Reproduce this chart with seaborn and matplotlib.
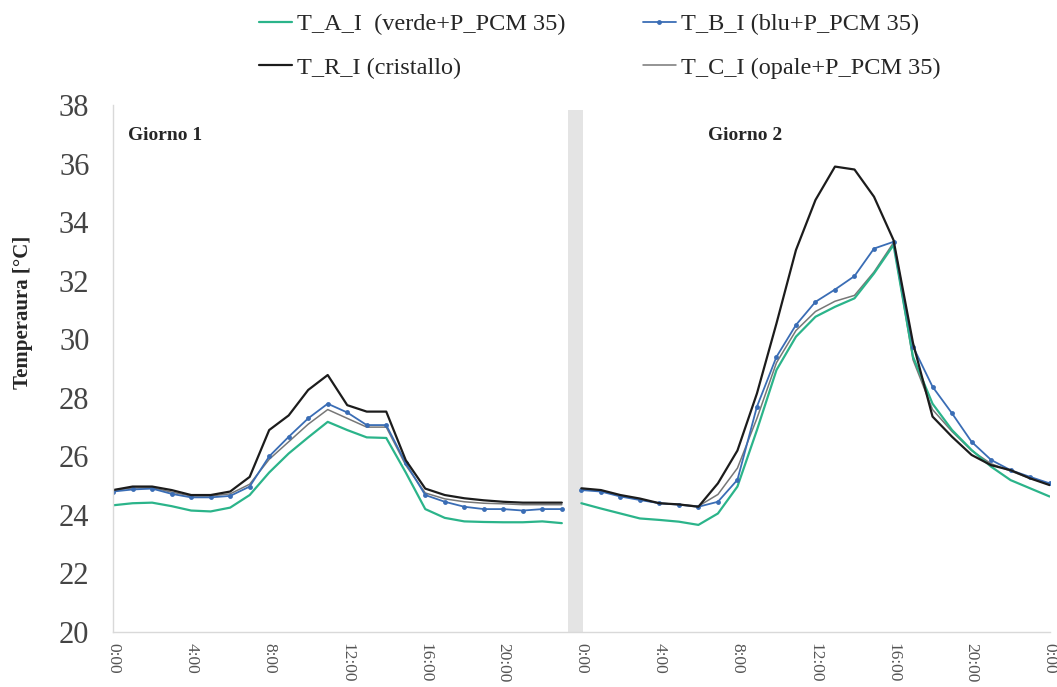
import numpy as np
import pandas as pd
import matplotlib
matplotlib.use("Agg")
import matplotlib.pyplot as plt
from matplotlib.lines import Line2D
import seaborn as sns

# hourly readings, day 1 (0:00-23:00) and day 2 (0:00 - 0:00 next day)
hours_day1 = list(range(0, 24))
hours_day2 = list(range(24, 49))

green_d1 = [24.33, 24.40, 24.42, 24.30, 24.15, 24.12, 24.25, 24.68, 25.45, 26.10, 26.65, 27.18,
            26.90, 26.65, 26.63, 25.45, 24.20, 23.90, 23.78, 23.76, 23.75, 23.75, 23.78, 23.72]
black_d1 = [24.85, 24.97, 24.97, 24.85, 24.68, 24.68, 24.80, 25.30, 26.90, 27.40, 28.27, 28.78,
            27.75, 27.53, 27.53, 25.87, 24.90, 24.68, 24.57, 24.50, 24.45, 24.42, 24.42, 24.42]
blue_d1 = [24.80, 24.87, 24.90, 24.72, 24.60, 24.60, 24.65, 24.97, 26.00, 26.67, 27.30, 27.80,
           27.50, 27.07, 27.07, 25.77, 24.68, 24.45, 24.28, 24.20, 24.20, 24.15, 24.20, 24.20]
gray_d1 = [24.85, 24.92, 24.93, 24.78, 24.65, 24.65, 24.72, 25.05, 25.90, 26.50, 27.10, 27.60,
           27.30, 27.00, 27.00, 25.70, 24.75, 24.55, 24.45, 24.40, 24.38, 24.35, 24.35, 24.35]

green_d2 = [24.40, 24.22, 24.05, 23.88, 23.83, 23.77, 23.66, 24.05, 24.97, 26.90, 28.95, 30.09,
            30.77, 31.11, 31.40, 32.25, 33.22, 29.40, 27.80, 26.90, 26.22, 25.65, 25.19, 24.91, 24.63]
black_d2 = [24.91, 24.85, 24.68, 24.56, 24.40, 24.36, 24.28, 25.08, 26.20, 28.15, 30.54, 33.05,
            34.76, 35.90, 35.80, 34.87, 33.39, 29.87, 27.36, 26.67, 26.05, 25.70, 25.53, 25.25, 25.02]
blue_d2 = [24.85, 24.80, 24.63, 24.51, 24.40, 24.35, 24.28, 24.45, 25.20, 27.70, 29.40, 30.49,
           31.28, 31.70, 32.16, 33.10, 33.33, 29.75, 28.38, 27.47, 26.50, 25.88, 25.53, 25.30, 25.08]
gray_d2 = [24.88, 24.82, 24.66, 24.53, 24.40, 24.36, 24.30, 24.70, 25.60, 27.30, 29.20, 30.30,
           30.95, 31.30, 31.50, 32.30, 33.30, 29.30, 27.60, 26.85, 26.20, 25.75, 25.50, 25.25, 25.05]

series_names = ["T_A_I  (verde+P_PCM 35)", "T_R_I (cristallo)",
                "T_B_I (blu+P_PCM 35)", "T_C_I (opale+P_PCM 35)"]
tick_hours = list(range(0, 49, 4))
tick_labels = ["0:00", "4:00", "8:00", "12:00", "16:00", "20:00",
               "0:00", "4:00", "8:00", "12:00", "16:00", "20:00", "0:00"]

sns.set_style("white")
plt.rcParams['font.family'] = ['Liberation Serif', 'DejaVu Serif']

colors = {"green": "#2bb48a", "black": "#1c1c1c", "blue": "#3a6db5", "gray": "#777777"}

fig = plt.figure(figsize=(10.57, 6.87), dpi=100)
ax = fig.add_axes([0.107, 0.080, 0.886, 0.767])

# separator between the two days
ax.axvspan(23.3, 24.1, ymax=0.99, color="#e4e4e4", lw=0, zorder=0)

day_data = [(hours_day1, green_d1, black_d1, blue_d1, gray_d1),
            (hours_day2, green_d2, black_d2, blue_d2, gray_d2)]
for hrs, g, k, b, c in day_data:
    sns.lineplot(x=hrs, y=c, ax=ax, color=colors["gray"], lw=1.1, legend=False)
    sns.lineplot(x=hrs, y=g, ax=ax, color=colors["green"], lw=1.6, legend=False)
    sns.lineplot(x=hrs, y=b, ax=ax, color=colors["blue"], lw=1.3, marker="o",
                 markersize=3.5, markeredgewidth=0, legend=False)
    sns.lineplot(x=hrs, y=k, ax=ax, color=colors["black"], lw=1.6, legend=False)

ax.set_xlim(0, 48)
ax.set_ylim(20, 38)
ax.set_yticks(range(20, 39, 2))
ax.set_xticks(tick_hours)
ax.set_xticklabels(tick_labels, rotation=270, fontsize=12.5, color="#555555")
ax.tick_params(axis="y", labelsize=22, colors="#444444", length=0, pad=17)
ax.tick_params(axis="x", length=0, pad=8)
ax.set_xlabel("")
ax.set_ylabel("Temperaura [°C]", fontsize=15, fontweight="bold")
ax.yaxis.set_label_coords(-0.085, 0.607)

for s in ["top", "right"]:
    ax.spines[s].set_visible(False)
for s in ["left", "bottom"]:
    ax.spines[s].set_color("#d9d9d9")
    ax.spines[s].set_linewidth(1)

ax.text(0.77, 36.96, "Giorno 1", fontsize=14, fontweight="bold", va="center", ha="left")
ax.text(32.4, 36.96, "Giorno 2", fontsize=14, fontweight="bold", va="center", ha="center")

handles = [
    Line2D([], [], color=colors["green"], lw=1.6),
    Line2D([], [], color=colors["black"], lw=1.6),
    Line2D([], [], color=colors["blue"], lw=1.3, marker="o", markersize=3.5, markeredgewidth=0),
    Line2D([], [], color=colors["gray"], lw=1.1),
]
fig.legend(handles, series_names, loc="upper left", bbox_to_anchor=(0.245, 0.981),
           ncol=2, frameon=False, fontsize=17.5, handlelength=1.35, handletextpad=0.2,
           columnspacing=3.2, labelspacing=0.9, borderpad=0, borderaxespad=0)

fig.savefig("out.png", dpi=100)
